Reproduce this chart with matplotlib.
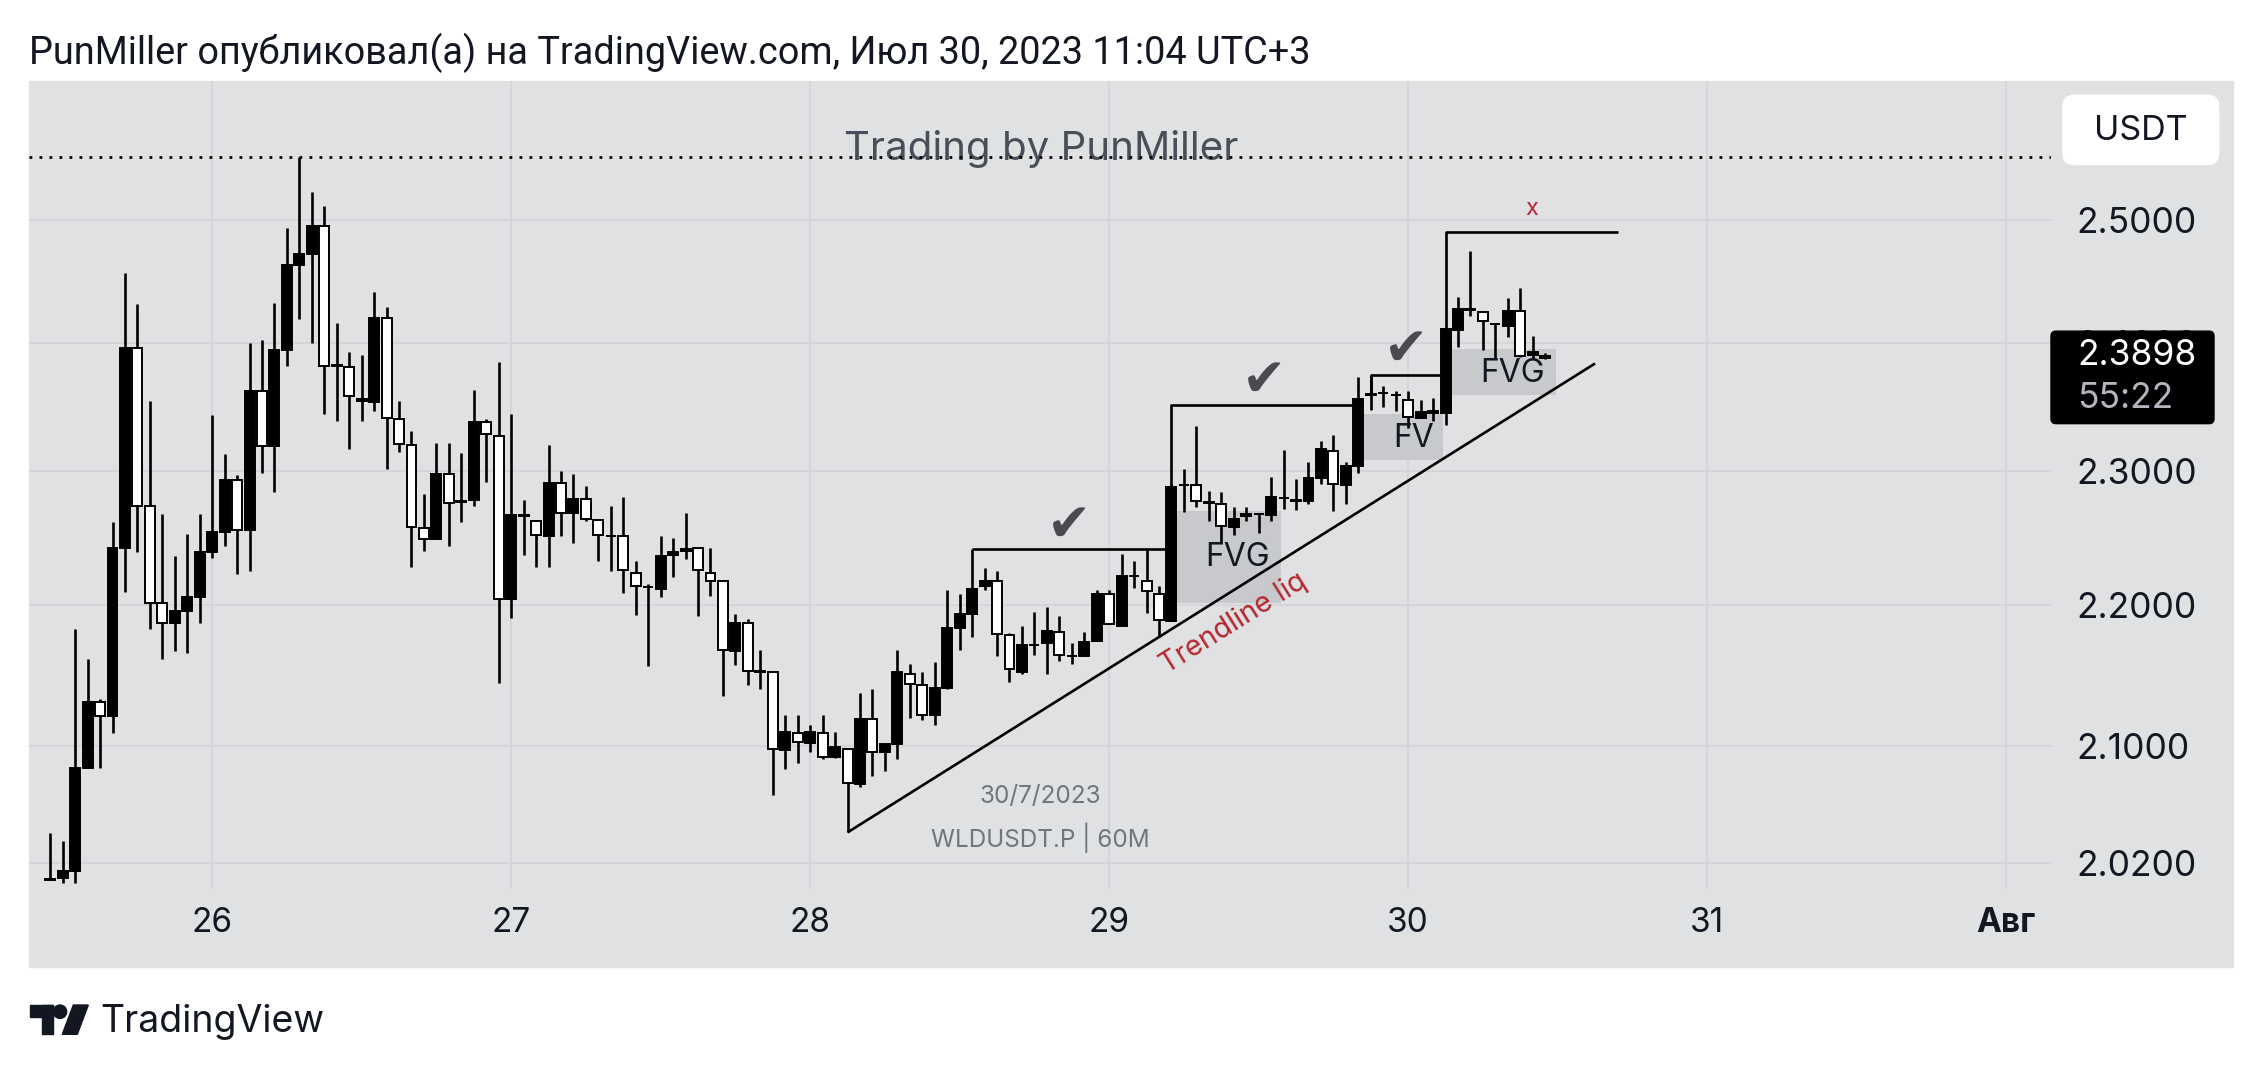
import matplotlib
matplotlib.use('Agg')
import matplotlib.pyplot as plt
import matplotlib.dates as mdates
from matplotlib.patches import Rectangle, FancyBboxPatch, Polygon, Circle
from matplotlib.ticker import FixedLocator, NullLocator
from matplotlib.transforms import IdentityTransform
import numpy as np
import pandas as pd

plt.rcParams['font.family'] = ['Inter', 'DejaVu Sans']

# WLDUSDT.P, 60M candles starting 25 Jul 2023 11:00
start = '2023-07-25 11:00'

opens = [
    2.009, 2.010, 2.015, 2.085, 2.131, 2.121, 2.242, 2.396, 2.274, 2.202,
    2.187, 2.196, 2.206, 2.239, 2.254, 2.293, 2.256, 2.362, 2.319, 2.394,
    2.463, 2.472, 2.495, 2.3825, 2.381, 2.354, 2.353, 2.420, 2.340, 2.320,
    2.257, 2.249, 2.298, 2.2765, 2.278, 2.338, 2.327, 2.205, 2.2668, 2.2625,
    2.2515, 2.291, 2.2685, 2.279, 2.2635, 2.2515, 2.251, 2.224, 2.2135, 2.212,
    2.237, 2.240, 2.2424, 2.2236, 2.218, 2.167, 2.187, 2.1525, 2.152, 2.0975,
    2.109, 2.102, 2.109, 2.092, 2.098, 2.0737, 2.1186, 2.0957, 2.1014, 2.1507,
    2.1427, 2.1214, 2.141, 2.1834, 2.1938, 2.214, 2.2182, 2.1783, 2.1524, 2.1714,
    2.1731, 2.1807, 2.1634, 2.1634, 2.1741, 2.2087, 2.1852, 2.2214, 2.2182, 2.2087,
    2.1886, 2.2895, 2.2895, 2.2761, 2.275, 2.258, 2.266, 2.2678, 2.2667, 2.2797,
    2.2776, 2.2776, 2.2949, 2.3154, 2.2895, 2.3041, 2.3592, 2.3603, 2.3588, 2.3549,
    2.3406, 2.3448, 2.3448, 2.4098, 2.4265, 2.4242, 2.4148, 2.4136, 2.4253, 2.3906,
    2.388]
highs = [
    2.040, 2.035, 2.183, 2.161, 2.133, 2.262, 2.456, 2.431, 2.354, 2.268,
    2.236, 2.253, 2.268, 2.343, 2.313, 2.297, 2.400, 2.402, 2.432, 2.493,
    2.552, 2.523, 2.511, 2.416, 2.393, 2.390, 2.441, 2.429, 2.354, 2.331,
    2.283, 2.322, 2.322, 2.314, 2.363, 2.340, 2.385, 2.344, 2.278, 2.2627,
    2.320, 2.300, 2.298, 2.289, 2.2637, 2.274, 2.2805, 2.233, 2.216, 2.2515,
    2.2497, 2.2685, 2.2426, 2.2424, 2.2182, 2.194, 2.190, 2.168, 2.1522, 2.1214,
    2.1214, 2.1145, 2.1214, 2.110, 2.0982, 2.137, 2.140, 2.1016, 2.168, 2.1576,
    2.1524, 2.1593, 2.2116, 2.2087, 2.2413, 2.2272, 2.2254, 2.180, 2.1852, 2.1955,
    2.199, 2.1921, 2.1731, 2.1807, 2.2116, 2.2116, 2.2377, 2.2327, 2.2406, 2.2145,
    2.290, 2.3015, 2.335, 2.2848, 2.2841, 2.2732, 2.2732, 2.268, 2.2957, 2.3165,
    2.2942, 2.3068, 2.3229, 2.3278, 2.3068, 2.3729, 2.3744, 2.3662, 2.3616, 2.3616,
    2.3549, 2.3568, 2.4109, 2.437, 2.4739, 2.4244, 2.415, 2.4358, 2.4436, 2.4058,
    2.392]
lows = [
    2.0085, 2.007, 2.007, 2.085, 2.085, 2.109, 2.210, 2.239, 2.183, 2.161,
    2.167, 2.166, 2.187, 2.235, 2.244, 2.223, 2.225, 2.299, 2.284, 2.382,
    2.419, 2.400, 2.344, 2.339, 2.317, 2.339, 2.346, 2.302, 2.315, 2.228,
    2.240, 2.249, 2.244, 2.262, 2.274, 2.292, 2.144, 2.191, 2.237, 2.228,
    2.228, 2.2515, 2.246, 2.2624, 2.233, 2.2254, 2.209, 2.193, 2.156, 2.206,
    2.221, 2.234, 2.192, 2.207, 2.135, 2.157, 2.143, 2.140, 2.066, 2.084,
    2.088, 2.0957, 2.0908, 2.0918, 2.0407, 2.0717, 2.0793, 2.0826, 2.0908, 2.1196,
    2.118, 2.1145, 2.1403, 2.168, 2.1772, 2.2114, 2.1634, 2.1448, 2.1507, 2.1645,
    2.1507, 2.160, 2.1576, 2.1634, 2.1741, 2.1862, 2.1852, 2.2128, 2.1945, 2.1772,
    2.1886, 2.2689, 2.2732, 2.2624, 2.2461, 2.2522, 2.2624, 2.2533, 2.2624, 2.2714,
    2.2707, 2.275, 2.2906, 2.2696, 2.275, 2.2986, 2.3474, 2.3493, 2.3466, 2.3331,
    2.3406, 2.339, 2.3353, 2.397, 2.4214, 2.3944, 2.3868, 2.4047, 2.3887, 2.3868,
    2.387]
closes = [
    2.0092, 2.015, 2.085, 2.131, 2.121, 2.242, 2.396, 2.274, 2.202, 2.187,
    2.196, 2.206, 2.239, 2.254, 2.293, 2.256, 2.362, 2.319, 2.394, 2.463,
    2.472, 2.495, 2.382, 2.382, 2.358, 2.356, 2.420, 2.341, 2.321, 2.258,
    2.249, 2.298, 2.276, 2.2772, 2.338, 2.3285, 2.205, 2.267, 2.2662, 2.252,
    2.291, 2.2685, 2.279, 2.264, 2.252, 2.2512, 2.226, 2.2145, 2.2132, 2.236,
    2.239, 2.2415, 2.226, 2.218, 2.168, 2.187, 2.153, 2.1522, 2.098, 2.110,
    2.1025, 2.110, 2.092, 2.099, 2.0743, 2.1186, 2.0957, 2.1014, 2.1524, 2.1438,
    2.1214, 2.141, 2.1834, 2.1938, 2.2123, 2.218, 2.1793, 2.1541, 2.1714, 2.1716,
    2.1817, 2.1645, 2.1636, 2.1738, 2.2087, 2.1862, 2.2217, 2.2216, 2.2109, 2.1893,
    2.2884, 2.2897, 2.2776, 2.2763, 2.2587, 2.2642, 2.268, 2.2676, 2.2805, 2.2799,
    2.2778, 2.2949, 2.3173, 2.2906, 2.3041, 2.3556, 2.3596, 2.3606, 2.3585, 2.3417,
    2.3455, 2.346, 2.4109, 2.4273, 2.4267, 2.4175, 2.4146, 2.4253, 2.3895, 2.3925,
    2.3898]

price_ticks = [2.02, 2.1, 2.2, 2.3, 2.4, 2.5]
price_labels = ['2.0200', '2.1000', '2.2000', '2.3000', '2.4000', '2.5000']
day_ticks = ['2023-07-26', '2023-07-27', '2023-07-28', '2023-07-29',
             '2023-07-30', '2023-07-31', '2023-08-01']
day_labels = ['26', '27', '28', '29', '30', '31', 'Авг']

last_price = '2.3898'
countdown = '55:22'
title = 'PunMiller опубликовал(а) на TradingView.com, Июл 30, 2023 11:04 UTC+3'

# drawings
trendline = [('2023-07-28 03:00', 2.0407), ('2023-07-30 15:00', 2.3836)]
swing_lines = [
    [('2023-07-28 13:00', 2.2413), ('2023-07-29 05:00', 2.2413)],
    [('2023-07-29 05:00', 2.2884), ('2023-07-29 05:00', 2.351), ('2023-07-29 20:00', 2.351)],
    [('2023-07-29 21:00', 2.3596), ('2023-07-29 21:00', 2.3744), ('2023-07-30 03:00', 2.3744)],
    [('2023-07-30 03:00', 2.4109), ('2023-07-30 03:00', 2.4895), ('2023-07-30 16:50', 2.4895)],
]
fvg_zones = [
    ('2023-07-29 05:00', '2023-07-29 13:50', 2.2015, 2.2696, 'FVG', '2023-07-29 10:20', 2.2352),
    ('2023-07-29 20:25', '2023-07-30 02:50', 2.3089, 2.3444, 'FV', '2023-07-30 00:25', 2.3248),
    ('2023-07-30 03:20', '2023-07-30 11:50', 2.3586, 2.3951, 'FVG', '2023-07-30 08:25', 2.3756),
]
checks = [('2023-07-28 20:45', 2.259), ('2023-07-29 12:25', 2.3696), ('2023-07-29 23:50', 2.3947)]


def t(s):
    return mdates.date2num(pd.Timestamp(s))


W, H = 2262, 1074
fig = plt.figure(figsize=(W / 100, H / 100), dpi=100, facecolor='white')

bg = '#e0e1e3'
txt = '#131722'

# gray chart panel (pane + both scales)
fig.patches.append(Rectangle((29 / W, 1 - 967 / H), (2233 - 29) / W, (967 - 81) / H,
                             transform=fig.transFigure, color=bg, zorder=-1))

ax = fig.add_axes([29 / W, 1 - 889 / H, (2051 - 29) / W, (889 - 81) / H])
ax.set_facecolor(bg)
for s in ax.spines.values():
    s.set_visible(False)

x = mdates.date2num(pd.date_range(start, periods=len(opens), freq='h'))
o = np.array(opens)
c = np.array(closes)
up = c >= o
body_lo = np.minimum(o, c)
body_h = np.maximum(np.abs(c - o), 0.0003)
face = np.where(up, 'black', 'white')

ax.vlines(x, lows, highs, color='black', lw=1.9, zorder=3)
ax.bar(x, body_h, bottom=body_lo, width=0.8 / 24, color=face,
       edgecolor='black', linewidth=1.4, zorder=4)

ax.set_yscale('log')
d0 = t('2023-07-26')
ax.set_xlim(d0 - 0.6126, d0 + 6.150)
ax.set_ylim(2.0028, 2.6174)

ax.yaxis.set_major_locator(FixedLocator(price_ticks))
ax.yaxis.set_minor_locator(NullLocator())
ax.set_yticklabels(price_labels)
ax.set_xticks([t(d) for d in day_ticks])
ax.set_xticklabels(day_labels)
ax.get_xticklabels()[-1].set_fontweight('bold')
ax.yaxis.tick_right()
ax.tick_params(axis='y', length=0, pad=18, labelsize=25.5, labelcolor=txt)
ax.tick_params(axis='x', length=0, pad=13, labelsize=24, labelcolor=txt)
ax.grid(True, color='#d3d4d7', lw=1.3, zorder=0)
ax.set_axisbelow(True)

# dotted line at the high
ax.axhline(max(highs), color='black', ls=(0, (1, 2.6)), lw=2.0, zorder=2)

# FVG zones
for t0, t1, p0, p1, lab, tx, py in fvg_zones:
    ax.add_patch(Rectangle((t(t0), p0), t(t1) - t(t0), p1 - p0,
                           color='#c8c9cd', lw=0, zorder=1))
    ax.text(t(tx), py, lab, fontsize=23, color=txt, ha='center', va='center', zorder=6)

# trendline and structure lines
ax.plot([t(p[0]) for p in trendline], [p[1] for p in trendline],
        color='black', lw=1.9, zorder=5, solid_capstyle='butt')
for line in swing_lines:
    ax.plot([t(p[0]) for p in line], [p[1] for p in line],
            color='black', lw=1.9, zorder=5, solid_capstyle='butt')

for tx, py in checks:
    ax.text(t(tx), py, '✔', fontsize=38, color='#4a4b50', ha='center', va='center',
            family=['DejaVu Sans'], zorder=6)

ax.text(t('2023-07-29 10:00'), 2.1875, 'Trendline liq', fontsize=20.5, color='#b5252f',
        rotation=32, ha='center', va='center', rotation_mode='anchor', zorder=6)
ax.text(t('2023-07-30 09:55'), 2.5084, 'x', fontsize=17, color='#b5252f',
        ha='center', va='center', zorder=6)

ax.text(t('2023-07-28 18:27'), 2.065, '30/7/2023', fontsize=17.5, color='#72757e',
        ha='center', va='center', zorder=6)
ax.text(t('2023-07-28 18:27'), 2.0374, 'WLDUSDT.P | 60M', fontsize=17.5, color='#72757e',
        ha='center', va='center', zorder=6)

# watermark
ax.text(0.5007, 0.916, 'Trading by PunMiller', transform=ax.transAxes, fontsize=29,
        color='#434651', alpha=0.95, ha='center', va='center', zorder=1)

# title and footer
fig.text(29 / W, 1 - 53 / H, title, fontsize=27.3, color=txt, va='center', ha='left',
         family=['Roboto', 'DejaVu Sans'])
fig.text(100 / W, 1 - 1031.7 / H, 'TradingView', fontsize=27, color=txt,
         va='baseline', ha='left')
logo = [
    Rectangle((30, H - 1016.7), 23.3, 11.7),
    Rectangle((41.7, H - 1034.3), 11.6, 29.3),
    Circle((60, H - 1011.7), 6.7),
    Polygon([(73.3, H - 1005), (88.3, H - 1005), (77.3, H - 1034.3), (62.3, H - 1034.3)]),
]
for p in logo:
    p.set_transform(IdentityTransform())
    p.set_color(txt)
    fig.patches.append(p)

# USDT currency box
fig.patches.append(FancyBboxPatch((2063, H - 164.6), 155.7, 69.3,
                                  boxstyle='round,pad=0,rounding_size=11',
                                  transform=IdentityTransform(), color='white', zorder=1))
fig.text(2141 / W, 1 - 131 / H, 'USDT', fontsize=24.5, color=txt, ha='center', va='center')

# last price label
y_last = ax.transData.transform((x[-1], closes[-1]))[1]
fig.patches.append(FancyBboxPatch((2051, y_last - 68), 163, 92.5,
                                  boxstyle='round,pad=0,rounding_size=5',
                                  transform=IdentityTransform(), color='black', zorder=2))
fig.text(2077 / W, y_last / H, last_price, fontsize=25.5, color='white', ha='left',
         va='center', zorder=4)
fig.text(2077 / W, (y_last - 43) / H, countdown, fontsize=25.5, color='#b2b5be', ha='left',
         va='center', zorder=4)

fig.savefig('out.png', dpi=100, facecolor='white')
